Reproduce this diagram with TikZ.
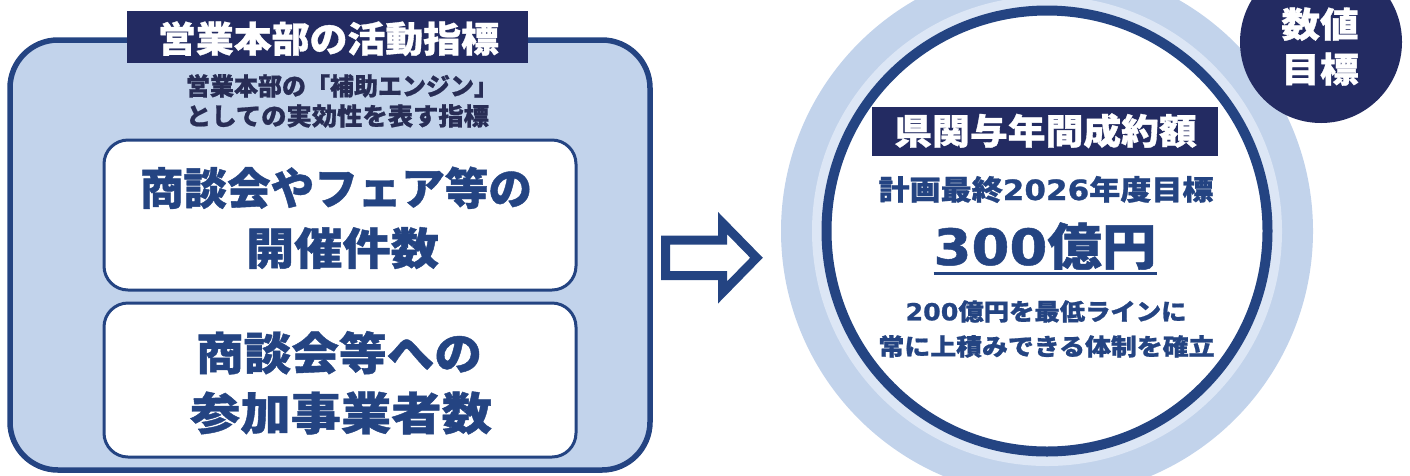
\documentclass[tikz,border=0pt]{standalone}
\usepackage{fontspec}
\newfontfamily\jp{Noto Sans CJK JP}[BoldFeatures={FakeBold=0.9}]
\newfontfamily\dv{DejaVu Sans}[BoldFeatures={FakeBold=0.9}]
\definecolor{navy}{RGB}{35,43,98}
\definecolor{mblue}{RGB}{36,68,130}
\definecolor{lblue}{RGB}{194,211,235}
\definecolor{pale}{RGB}{220,230,245}
\definecolor{subtxt}{RGB}{40,45,85}
\newcommand\fitw[2]{\resizebox{#1}{\height}{#2}}
\newcommand\jpf[1]{\jp\bfseries\fontsize{#1}{#1}\selectfont}
\newcommand\dig[1]{{\dv\bfseries #1}}
\tikzset{
  txt/.style={inner sep=0pt, outer sep=0pt, anchor=base},
  panel/.style={draw=mblue, fill=lblue, line width=5.5pt, rounded corners=48pt, inner sep=0pt},
  whitebox/.style={draw=mblue, fill=white, line width=3pt, rounded corners=24pt, inner sep=0pt, minimum width=472pt},
  tagbox/.style={fill=navy, inner sep=0pt},
  disc/.style={circle, inner sep=0pt},
}
\begin{document}
\begin{tikzpicture}[x=1pt,y=-1pt]
\useasboundingbox (0,0) rectangle (1410,475);
\begin{scope}
\clip (0,0) rectangle (1410,475);
% left panel
\node[panel, minimum width=640pt, minimum height=430pt] (panel) at (330,255) {};
\node[tagbox, minimum width=401pt, minimum height=52pt] (tag) at (327.5,37) {};
\node[txt, text=white, font=\jpf{36}] (tagtxt) at (328.5,52.3) {\fitw{341pt}{営業本部の活動指標}};
\node[txt, text=subtxt, font=\jpf{24.5}] (sub1) at (342,95.2) {\fitw{312pt}{営業本部の「補助エンジン」}};
\node[txt, text=subtxt, font=\jpf{24.5}] (sub2) at (337.5,125.2) {\fitw{303pt}{としての実効性を表す指標}};
% white boxes
\node[whitebox, minimum height=150pt] (box1) at (340,215) {};
\node[txt, text=mblue, font=\jpf{44}] (b1l1) at (336,204.7) {\fitw{392pt}{商談会やフェア等の}};
\node[txt, text=mblue, font=\jpf{44}] (b1l2) at (342.5,264.7) {\fitw{193pt}{開催件数}};
\node[whitebox, minimum height=154pt] (box2) at (340,380) {};
\node[txt, text=mblue, font=\jpf{45}] (b2l1) at (339,370) {\fitw{286pt}{商談会等への}};
\node[txt, text=mblue, font=\jpf{45}] (b2l2) at (341,430) {\fitw{302pt}{参加事業者数}};
% arrow
\draw[mblue, line width=9pt, fill=white] (665.5,240) -- (722.5,240) -- (722.5,223) -- (756.5,257.75) -- (722.5,292.5) -- (722.5,275.5) -- (665.5,275.5) -- cycle;
% circle
\node[disc, fill=lblue, minimum size=532pt] (outer) at (1047,231) {};
\node[disc, fill=pale, minimum size=470pt] (paler) at (1047,231) {};
\node[disc, draw=mblue, line width=10pt, fill=white, minimum size=441pt] (ring) at (1047,231) {};
\node[disc, fill=navy, minimum size=162pt] (badge) at (1321,42) {};
\node[txt, text=white, font=\jpf{35}] (bd1) at (1320,37.4) {\fitw{77.5pt}{数値}};
\node[txt, text=white, font=\jpf{35}] (bd2) at (1320,82.4) {\fitw{77.5pt}{目標}};
\node[tagbox, minimum width=346pt, minimum height=49pt] (tag2) at (1045,131.5) {};
\node[txt, text=white, font=\jpf{35.5}] (tag2txt) at (1045.5,144.3) {\fitw{302.5pt}{県関与年間成約額}};
\node[txt, text=mblue, font=\jpf{28}] (plan) at (1046,200) {\fitw{335pt}{計画最終\dig{2026}年度目標}};
\node[txt, text=mblue, font=\jpf{50}] (goal) at (1045,265) {\fitw{223pt}{\dig{300}億円}};
\draw[mblue, line width=3pt] ([yshift=-8pt]goal.base west) -- ([yshift=-8pt]goal.base east);
\node[txt, text=mblue, font=\jpf{23.5}] (note1) at (1046,320.3) {\fitw{281pt}{\dig{200}億円を最低ラインに}};
\node[txt, text=mblue, font=\jpf{23.5}] (note2) at (1046.5,355.3) {\fitw{336pt}{常に上積みできる体制を確立}};
\end{scope}
\end{tikzpicture}
\end{document}
